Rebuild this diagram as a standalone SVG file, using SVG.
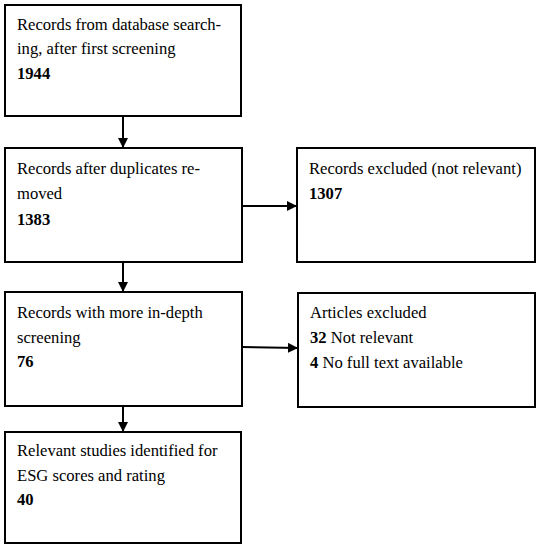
<svg xmlns="http://www.w3.org/2000/svg" width="539" height="550" viewBox="0 0 539 550">
<style>
.box{fill:#fff;stroke:#000;stroke-width:2}
.t{font-family:"Liberation Serif","DejaVu Serif",serif;font-size:16.6px;fill:#000}
.b{font-weight:bold}
.c{stroke:#000;stroke-width:2;fill:none}
</style>
<defs>
<marker id="ah" viewBox="0 0 10 10" refX="10" refY="5" markerWidth="5" markerHeight="5" orient="auto" markerUnits="strokeWidth">
<path d="M0,0 L10,5 L0,10 z" fill="#000"/>
</marker>
</defs>
<rect width="539" height="550" fill="#fff"/>
<g id="connectors">
<line class="c" x1="123" y1="116" x2="123" y2="148" marker-end="url(#ah)"/>
<line class="c" x1="242" y1="206" x2="297" y2="206" marker-end="url(#ah)"/>
<line class="c" x1="123" y1="262" x2="123" y2="292" marker-end="url(#ah)"/>
<line class="c" x1="242" y1="347" x2="298" y2="348" marker-end="url(#ah)"/>
<line class="c" x1="123" y1="406" x2="123" y2="432" marker-end="url(#ah)"/>
</g>
<g id="n1">
<rect class="box" x="5" y="5" width="236" height="111"/>
<text class="t" x="17" y="30">Records from database search-</text>
<text class="t" x="17" y="54">ing, after first screening</text>
<text class="t b" x="17" y="79">1944</text>
</g>
<g id="n2">
<rect class="box" x="5" y="148" width="237" height="114"/>
<text class="t" x="17" y="174">Records after duplicates re-</text>
<text class="t" x="17" y="199">moved</text>
<text class="t b" x="17" y="225">1383</text>
</g>
<g id="n3">
<rect class="box" x="297" y="148" width="238" height="114"/>
<text class="t" x="309" y="174">Records excluded (not relevant)</text>
<text class="t b" x="309" y="199">1307</text>
</g>
<g id="n4">
<rect class="box" x="5" y="292" width="237" height="114"/>
<text class="t" x="17" y="318">Records with more in-depth</text>
<text class="t" x="17" y="343">screening</text>
<text class="t b" x="17" y="367">76</text>
</g>
<g id="n5">
<rect class="box" x="298" y="293" width="237" height="114"/>
<text class="t" x="310" y="318">Articles excluded</text>
<text class="t" x="310" y="343"><tspan class="b">32</tspan> Not relevant</text>
<text class="t" x="310" y="368"><tspan class="b">4</tspan> No full text available</text>
</g>
<g id="n6">
<rect class="box" x="5" y="432" width="236" height="111"/>
<text class="t" x="17" y="456">Relevant studies identified for</text>
<text class="t" x="17" y="481">ESG scores and rating</text>
<text class="t b" x="17" y="505">40</text>
</g>
</svg>
